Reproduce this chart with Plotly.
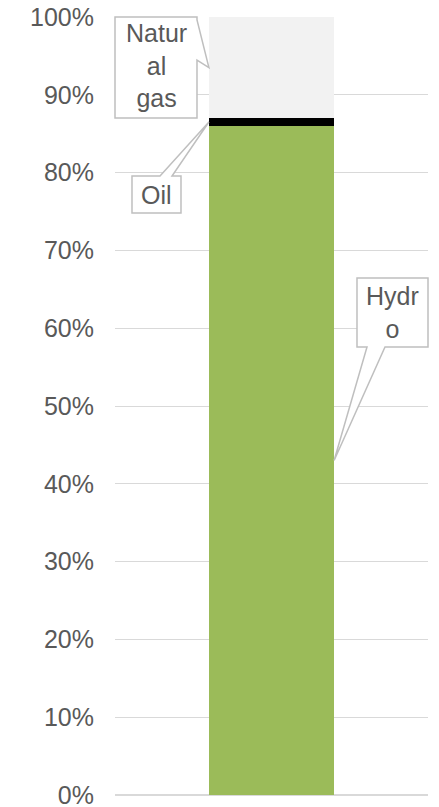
import plotly.graph_objects as go

# ---- data ----
sources = ["Hydro", "Oil", "Natural gas"]
shares = [0.86, 0.01, 0.13]
colors = ["#9BBB59", "#000000", "#F2F2F2"]
label_texts = ["Hydr<br>o", "Oil", "Natur<br>al<br>gas"]
tick_vals = [i / 10 for i in range(11)]
tick_text = [f"{i*10}%" for i in range(11)]

BAR_W = 0.4
X_RANGE = [-0.5, 0.5]

fig = go.Figure()
for name, val, col in zip(sources, shares, colors):
    fig.add_trace(go.Bar(x=[0], y=[val], name=name, marker=dict(color=col, line=dict(width=0)),
                         width=BAR_W, showlegend=False, hoverinfo="name+y"))

# ---- plot area geometry (pixels) ----
W, H = 439, 807
L, R, T, B = 115, 11, 17, 12
pw, ph = W - L - R, H - T - B

def px(xp):
    return (xp - L) / pw

def py(yp):
    return (H - B - yp) / ph

def data_x_to_paper(x):
    return (x - X_RANGE[0]) / (X_RANGE[1] - X_RANGE[0])

# anchors derived from data (segment midpoints at bar edges)
cum = []
c = 0
for v in shares:
    cum.append(c + v / 2)
    c += v
left_edge = data_x_to_paper(-BAR_W / 2)
right_edge = data_x_to_paper(BAR_W / 2)

def path(pts):
    return "M " + " L ".join(f"{a:.5f},{b:.5f}" for a, b in pts) + " Z"

shapes = []
annos = []
box_line = dict(color="#BFBFBF", width=1.5)
txt_font = dict(family="Liberation Sans, Arial, sans-serif", size=25, color="#595959")

# Natural gas callout (box at left, wedge on right side)
gx0, gx1, gy0, gy1 = px(115), px(197), py(17), py(118)
ax, ay = left_edge, cum[2]
shapes.append(dict(type="path", xref="paper", yref="paper", layer="above",
                   path=path([(gx0, gy0), (gx1, gy0), (gx1, py(20)), (ax, ay), (gx1, py(60)),
                              (gx1, gy1), (gx0, gy1)]),
                   line=box_line, fillcolor="white"))
annos.append(dict(text=label_texts[2], xref="paper", yref="paper", x=(gx0 + gx1) / 2,
                  y=(gy0 + gy1) / 2 + 0.003, showarrow=False, font=txt_font, xanchor="center", yanchor="middle"))

# Oil callout (box below-left, wedge on top edge)
ox0, ox1, oy0, oy1 = px(132), px(181), py(176), py(213)
ax, ay = left_edge, cum[1]
shapes.append(dict(type="path", xref="paper", yref="paper", layer="above",
                   path=path([(ox0, oy0), (px(160), oy0), (ax, ay), (px(172), oy0), (ox1, oy0),
                              (ox1, oy1), (ox0, oy1)]),
                   line=box_line, fillcolor="white"))
annos.append(dict(text=label_texts[1], xref="paper", yref="paper", x=(ox0 + ox1) / 2,
                  y=(oy0 + oy1) / 2, showarrow=False, font=txt_font, xanchor="center", yanchor="middle"))

# Hydro callout (box right, wedge on bottom edge)
hx0, hx1, hy0, hy1 = px(357), px(428), py(278), py(347)
ax, ay = right_edge, cum[0]
shapes.append(dict(type="path", xref="paper", yref="paper", layer="above",
                   path=path([(hx0, hy0), (hx1, hy0), (hx1, hy1), (px(385), hy1), (ax, ay),
                              (px(367), hy1), (hx0, hy1)]),
                   line=box_line, fillcolor="white"))
annos.append(dict(text=label_texts[0], xref="paper", yref="paper", x=(hx0 + hx1) / 2,
                  y=(hy0 + hy1) / 2, showarrow=False, font=txt_font, xanchor="center", yanchor="middle"))

fig.update_layout(
    barmode="stack",
    width=W, height=H,
    margin=dict(l=L, r=R, t=T, b=B, pad=0, autoexpand=False),
    paper_bgcolor="white", plot_bgcolor="white",
    xaxis=dict(range=X_RANGE, showticklabels=False, showgrid=False, zeroline=False,
               showline=False, ticks="", fixedrange=True, automargin=False),
    yaxis=dict(range=[0, 1], tickvals=tick_vals, ticktext=tick_text, showgrid=True,
               gridcolor="#D9D9D9", gridwidth=1, zeroline=True, zerolinecolor="#D9D9D9",
               zerolinewidth=1.5, showline=False, ticks="", ticklabelstandoff=20, automargin=False,
               ticklabeloverflow="allow",
               tickfont=dict(family="Liberation Sans, Arial, sans-serif", size=25, color="#595959")),
    shapes=shapes,
    annotations=annos,
    font=dict(family="Liberation Sans, Arial, sans-serif"),
)

fig.write_html("out.html", config={"displayModeBar": False},
               post_script="document.body.style.margin='0';document.body.style.padding='0';document.body.style.overflow='hidden';")
